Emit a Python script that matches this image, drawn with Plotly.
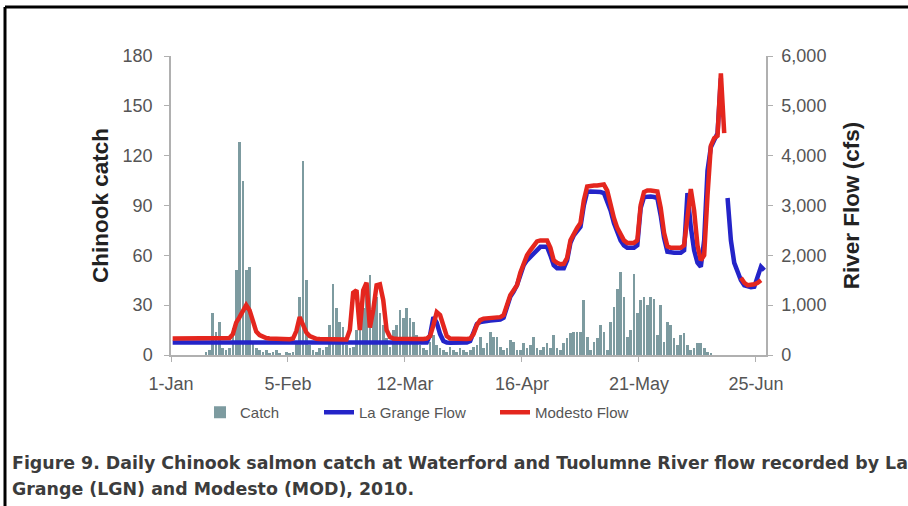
import pandas as pd
import plotly.graph_objects as go

# Daily series, 1 Jan - 27 Jun 2010 (178 days)
days = pd.date_range("2010-01-01 12:00", periods=178, freq="D")

# Daily Chinook catch at Waterford
catch = [
    0, 0, 0, 0, 0, 0, 0, 0, 0, 0,
    2, 3, 25, 14, 20, 4, 3, 4, 16, 51,
    128, 105, 51, 53, 8, 4, 3, 2, 3, 1,
    2, 3, 1, 0, 2, 1, 2, 8, 35, 117,
    45, 6, 3, 2, 4, 3, 5, 18, 43, 28,
    20, 17, 6, 4, 5, 15, 20, 28, 41, 48,
    30, 35, 25, 18, 10, 5, 15, 18, 27, 22,
    28, 22, 20, 12, 6, 4, 3, 8, 12, 6,
    4, 3, 2, 5, 3, 2, 4, 3, 2, 3,
    5, 6, 11, 4, 7, 14, 11, 11, 5, 3,
    4, 9, 8, 3, 3, 7, 4, 6, 11, 4,
    3, 5, 7, 4, 12, 4, 3, 7, 10, 13,
    14, 14, 14, 33, 11, 3, 8, 10, 18, 14,
    3, 20, 29, 40, 50, 35, 11, 15, 49, 25,
    33, 35, 30, 35, 34, 12, 30, 8, 20, 18,
    10, 6, 12, 13, 6, 3, 4, 7, 7, 4,
    2, 1, 0, 0, 0, 0, 0, 0, 0, 0,
    0, 0, 0, 0, 0, 0, 0, 0,
]

# La Grange flow (cfs); None = no record
la_grange = [
    250, 250, 248, 248, 246, 246, 245, 245, 244, 244,
    243, 243, 242, 242, 242, 241, 241, 241, 240, 240,
    240, 240, 240, 240, 240, 240, 240, 240, 240, 240,
    238, 238, 238, 238, 238, 238, 238, 238, 238, 238,
    238, 238, 238, 238, 238, 238, 238, 238, 238, 238,
    236, 236, 236, 236, 236, 236, 236, 236, 236, 236,
    236, 236, 236, 236, 236, 236, 236, 236, 236, 236,
    235, 235, 235, 235, 235, 235, 250, 400, 760, 650,
    420, 280, 250, 245, 245, 245, 245, 245, 250, 280,
    450, 620, 660, 680, 680, 690, 690, 700, 710, 750,
    970, 1170, 1270, 1400, 1600, 1800, 1900, 1970, 2050, 2120,
    2170, 2170, 2170, 2000, 1800, 1740, 1740, 1740, 1900, 2250,
    2400, 2500, 2570, 3000, 3270, 3280, 3280, 3280, 3270, 3250,
    3100, 2900, 2650, 2450, 2300, 2200, 2150, 2150, 2150, 2200,
    2950, 3170, 3180, 3180, 3170, 3150, 2800, 2350, 2070, 2050,
    2050, 2050, 2050, 2100, 3250, 2570, 2100, 1850, 1770, 2300,
    3700, 4170, 4300, 4450, 5550, None, 3150, 2300, 1850, 1650,
    1500, 1400, 1370, 1360, 1370, 1550, 1770, 1700,
]

# Modesto flow (cfs); None = no record
modesto = [
    330, 330, 328, 328, 326, 326, 325, 324, 323, 322,
    321, 320, 320, 319, 318, 318, 320, 340, 420, 650,
    760, 900, 1000, 900, 650, 470, 400, 360, 340, 330,
    325, 322, 320, 320, 318, 318, 330, 480, 760, 620,
    450, 380, 340, 325, 320, 318, 316, 315, 315, 314,
    314, 313, 313, 500, 1250, 1300, 500, 1300, 1450, 550,
    900, 1400, 1420, 1100, 500, 360, 330, 325, 322, 320,
    320, 320, 320, 320, 320, 320, 330, 380, 600, 860,
    800, 550, 380, 330, 325, 320, 320, 320, 320, 330,
    420, 600, 700, 730, 740, 740, 740, 750, 760, 800,
    1000, 1200, 1300, 1400, 1650, 1850, 2000, 2100, 2200, 2280,
    2300, 2300, 2300, 2150, 1900, 1850, 1820, 1830, 1950, 2300,
    2450, 2550, 2650, 3100, 3380, 3400, 3400, 3400, 3420, 3420,
    3300, 3000, 2750, 2550, 2400, 2300, 2250, 2250, 2250, 2300,
    3000, 3270, 3300, 3300, 3300, 3280, 2950, 2450, 2180, 2150,
    2150, 2150, 2150, 2200, 2800, 3330, 2900, 2200, 1900, 2000,
    3200, 4200, 4350, 4400, 5650, 4450, None, None, None, None,
    1550, 1450, 1400, 1400, 1420, 1450, 1500, None,
]

tick_dates = ["2010-01-01", "2010-02-05", "2010-03-12",
              "2010-04-16", "2010-05-21", "2010-06-25"]
tick_labels = ["1-Jan", "5-Feb", "12-Mar", "16-Apr", "21-May", "25-Jun"]

caption_lines = [
    "Figure 9. Daily Chinook salmon catch at Waterford and Tuolumne River flow recorded by La",
    "Grange (LGN) and Modesto (MOD), 2010.",
]

FONT = "Liberation Sans, Arial, sans-serif"
TICK_FONT = dict(family=FONT, size=18, color="#555555")
TITLE_FONT = dict(family=FONT, size=22.5, color="#222222")
AXIS_LINE = "#b0b0b0"

fig = go.Figure()
fig.add_trace(go.Bar(
    x=days, y=catch, name="Catch", yaxis="y",
    width=0.8 * 86400000,
    marker=dict(color="#7d9ba0", line=dict(width=0)),
    legendwidth=74,
))
fig.add_trace(go.Scatter(
    x=days, y=la_grange, name="La Grange Flow", yaxis="y2",
    mode="lines", connectgaps=False,
    line=dict(color="#2424c8", width=4.5),
    legendwidth=131,
))
fig.add_trace(go.Scatter(
    x=days, y=modesto, name="Modesto Flow", yaxis="y2",
    mode="lines", connectgaps=False,
    line=dict(color="#e4261e", width=4.5),
))

# L-shaped frame along the top and left of the page
W, H = 908, 506
L, R, T, B = 171, 142, 56, 151
pw, ph = W - L - R, H - T - B


def px_x(px):
    return (px - L) / pw


def px_y(py):
    return (H - B - py) / ph


fig.add_shape(type="line", xref="paper", yref="paper",
              x0=px_x(5), x1=px_x(W + 5), y0=px_y(7), y1=px_y(7),
              line=dict(color="#000000", width=3))
fig.add_shape(type="line", xref="paper", yref="paper",
              x0=px_x(5), x1=px_x(5), y0=px_y(7), y1=px_y(H + 5),
              line=dict(color="#000000", width=3))

for line_text, py in zip(caption_lines, [463, 489]):
    fig.add_annotation(
        text="<b>" + line_text + "</b>",
        xref="paper", yref="paper", x=px_x(10), y=px_y(py),
        xanchor="left", yanchor="middle", showarrow=False,
        font=dict(family="DejaVu Sans, sans-serif", size=17.4, color="#3c3c3c"),
    )

fig.update_layout(
    width=W, height=H,
    margin=dict(l=L, r=R, t=T, b=B),
    paper_bgcolor="white", plot_bgcolor="white",
    bargap=0,
    xaxis=dict(
        type="date", range=["2010-01-01", "2010-06-28"],
        tickvals=tick_dates, ticktext=tick_labels,
        ticks="outside", ticklen=5, tickcolor=AXIS_LINE,
        ticklabelstandoff=7,
        showline=True, linecolor=AXIS_LINE, linewidth=1.5,
        showgrid=False, zeroline=False, tickfont=TICK_FONT,
    ),
    yaxis=dict(
        range=[0, 180], tick0=0, dtick=30,
        ticks="outside", ticklen=5, tickcolor=AXIS_LINE,
        ticklabelstandoff=8,
        showline=True, linecolor=AXIS_LINE, linewidth=1.5,
        showgrid=False, zeroline=False, tickfont=TICK_FONT,
        title=dict(text="<b>Chinook catch</b>", standoff=8, font=TITLE_FONT),
    ),
    yaxis2=dict(
        overlaying="y", side="right",
        range=[0, 6000], tick0=0, dtick=1000, tickformat=",",
        ticks="outside", ticklen=5, tickcolor=AXIS_LINE,
        ticklabelstandoff=5,
        showline=True, linecolor=AXIS_LINE, linewidth=1.5,
        showgrid=False, zeroline=False, tickfont=TICK_FONT,
        title=dict(text="<b>River Flow (cfs)</b>", standoff=18, font=TITLE_FONT),
    ),
    legend=dict(
        orientation="h", x=px_x(200), y=px_y(396),
        xanchor="left", yanchor="top",
        font=dict(family=FONT, size=15, color="#555555"),
        bgcolor="rgba(0,0,0,0)", itemwidth=30,
    ),
    showlegend=True,
)

fig.write_html("out.html")
